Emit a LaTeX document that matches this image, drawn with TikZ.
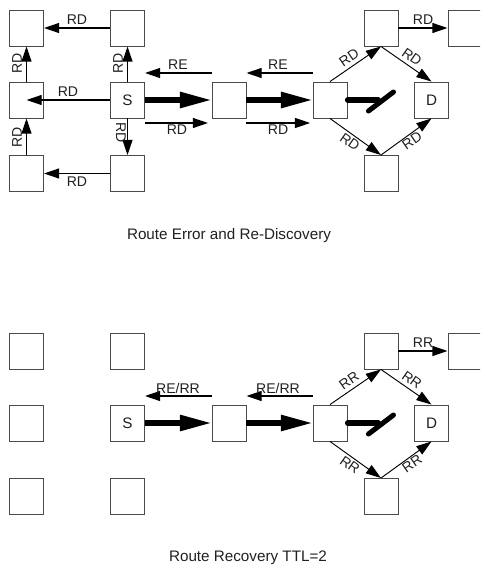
\documentclass[tikz,border=0pt]{standalone}
\usepackage{fontspec}
\setmainfont{Liberation Sans}
\usetikzlibrary{arrows.meta, calc}
\definecolor{boxline}{HTML}{4A4A4A}
\definecolor{txt}{HTML}{202020}

\begin{document}
\begin{tikzpicture}[
    x=0.03cm, y=-0.03cm,
    every node/.style={font=\fontsize{12}{14}\selectfont, text=txt, inner sep=0.5pt},
    box/.style={draw=boxline, fill=white, line width=0.8pt, minimum width=1.02cm, minimum height=1.08cm, inner sep=0pt, font=\fontsize{13}{15}\selectfont},
    msg/.style={line width=1.2pt, -{Triangle[length=13pt, width=8.5pt]}},
    hop/.style={line width=0.8pt, -{Triangle[length=13pt, width=8.5pt]}},
    data/.style={line width=4.3pt, -{Triangle[length=27pt, width=13pt]}},
    brk/.style={line width=4.3pt, line cap=round},
    figcap/.style={font=\fontsize{13}{15}\selectfont}
]
\clip (0,0) rectangle (480,565);

% ---- Route error and re-discovery ----
\node[box] (a11) at (26.5,28) {};
\node[box] (a21) at (26.5,100) {};
\node[box] (a31) at (26.5,173.5) {};
\node[box] (a12) at (127.5,28) {};
\node[box] (s1) at (127.5,100) {S};
\node[box] (a32) at (127.5,173.5) {};
\node[box] (a23) at (229,100) {};
\node[box] (a24) at (330,100) {};
\node[box] (a15) at (381,28) {};
\node[box] (a35) at (381,173.5) {};
\node[box] (d1) at (431.5,100) {D};
\node[box] (a17) at (465,28) {};

% discovery flood round S
\draw[msg] (a12) -- (a11);
\draw[msg] (a21) -- (a11);
\draw[msg] (a31) -- (a21);
\draw[msg] (s1) -- (a12);
\draw[msg] (s1) -- (a32);
\draw[msg] (s1) -- (a21.center);
\draw[msg] (a32) -- (a31);
\node (rd1) at (77,20) {RD};
\node[rotate=90] (rd2) at (17,63) {RD};
\node[rotate=90] (rd3) at (17,137) {RD};
\node[rotate=90] (rd4) at (118,63) {RD};
\node[rotate=-90] (rd5) at (121,133) {RD};
\node (rd6) at (68,92) {RD};
\node (rd7) at (77,182) {RD};

% data path and error back to S
\draw[data] (s1) -- (a23);
\draw[data] (a23) -- (a24);
\draw[msg] ([yshift=0.81cm]a23.west) -- ([yshift=0.81cm]s1.east);
\draw[msg] ([yshift=0.81cm]a24.west) -- ([yshift=0.81cm]a23.east);
\draw[msg, shorten >=3pt] ([yshift=-0.69cm]s1.east) -- ([yshift=-0.69cm]a23.west);
\draw[msg, shorten >=2pt] ([yshift=-0.69cm]a23.east) -- ([yshift=-0.69cm]a24.west);
\node (re1) at (178,65) {RE};
\node (re2) at (278,65) {RE};
\node (rd8) at (177,130) {RD};
\node (rd9) at (278,130) {RD};

% broken link
\draw[brk] (a24.east) -- ++(31,0);
\draw[brk] ($(a24.east)+(21,11)$) -- ++(25,-19);

% new routes to D
\draw[hop] (a24.north) -- (a15.south);
\draw[hop] (a15.south) -- (d1.north);
\draw[hop] (a24.south) -- (a35.north);
\draw[hop] (a35.north) -- (d1.south);
\draw[msg] (a15) -- (a17);
\node[rotate=35] (rd10) at (349,58) {RD};
\node[rotate=-35] (rd11) at (412,57) {RD};
\node[rotate=-35] (rd12) at (350,142) {RD};
\node[rotate=35] (rd13) at (412,141) {RD};
\node (rd14) at (423,20) {RD};

\node[figcap] (cap1) at (229,236) {Route Error and Re-Discovery};

% ---- Route recovery ----
\node[box] (b11) at (26.5,351) {};
\node[box] (b21) at (26.5,423) {};
\node[box] (b31) at (26.5,496.5) {};
\node[box] (b12) at (127.5,351) {};
\node[box] (s2) at (127.5,423) {S};
\node[box] (b32) at (127.5,496.5) {};
\node[box] (b23) at (229,423) {};
\node[box] (b24) at (330,423) {};
\node[box] (b15) at (381,351) {};
\node[box] (b35) at (381,496.5) {};
\node[box] (d2) at (431.5,423) {D};
\node[box] (b17) at (465,351) {};

\draw[data] (s2) -- (b23);
\draw[data] (b23) -- (b24);
\draw[msg] ([yshift=0.81cm]b23.west) -- ([yshift=0.81cm]s2.east);
\draw[msg] ([yshift=0.81cm]b24.west) -- ([yshift=0.81cm]b23.east);
\node (rr1) at (178,388) {RE/RR};
\node (rr2) at (278,388) {RE/RR};

% broken link
\draw[brk] (b24.east) -- ++(31,0);
\draw[brk] ($(b24.east)+(21,11)$) -- ++(25,-19);

\draw[hop] (b24.north) -- (b15.south);
\draw[hop] (b15.south) -- (d2.north);
\draw[hop] (b24.south) -- (b35.north);
\draw[hop] (b35.north) -- (d2.south);
\draw[msg] (b15) -- (b17);
\node[rotate=35] (rr3) at (349,381) {RR};
\node[rotate=-35] (rr4) at (412,380) {RR};
\node[rotate=-35] (rr5) at (350,465) {RR};
\node[rotate=35] (rr6) at (412,464) {RR};
\node (rr7) at (423,343) {RR};

\node[figcap] (cap2) at (248,558) {Route Recovery TTL=2};
\end{tikzpicture}
\end{document}
